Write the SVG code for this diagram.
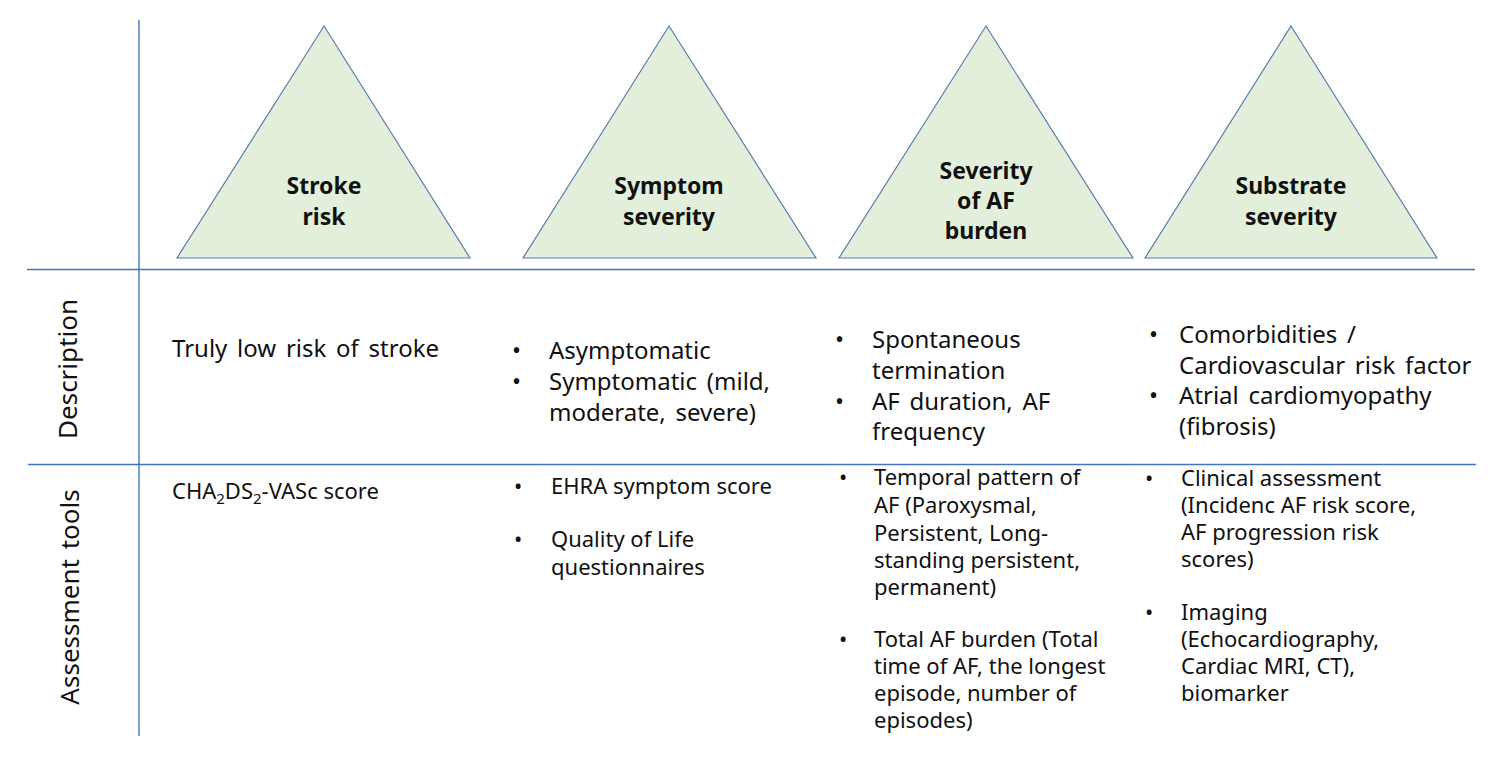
<svg xmlns="http://www.w3.org/2000/svg" width="1502" height="757" viewBox="0 0 1502 757">
<style>
.tri{fill:#E2EFDA;stroke:#5B7BB0;stroke-width:1.2}
.grid{stroke:#4472C4;stroke-width:1.4;fill:none}
.lbl{font-family:"Noto Sans","Open Sans",sans-serif;font-weight:bold;font-size:23px;fill:#111;text-anchor:middle}
.d{font-family:"Noto Sans","Open Sans",sans-serif;font-size:24px;fill:#111;word-spacing:3.5px}
.b{font-family:"Noto Sans","Open Sans",sans-serif;font-size:24px;fill:#111}
.a{font-family:"Noto Sans","Open Sans",sans-serif;font-size:22px;fill:#111}
.row{font-family:"Noto Sans","Open Sans",sans-serif;font-size:26px;fill:#111;text-anchor:middle;word-spacing:3px}
</style>
<rect width="1502" height="757" fill="#fff"/>
<g id="grid">
<line class="grid" x1="139" y1="20" x2="139" y2="736"/>
<line class="grid" x1="27" y1="269.5" x2="1475" y2="269.5"/>
<line class="grid" x1="28" y1="464.5" x2="1476" y2="464.5"/>
</g>
<g id="row-labels">
<text class="row" transform="translate(77,369) rotate(-90)">Description</text>
<text class="row" transform="translate(79,597) rotate(-90)">Assessment tools</text>
</g>
<g id="stroke-risk">
<polygon class="tri" points="324,26 470,258 177,258"/>
<text class="lbl" x="324" y="194">Stroke</text>
<text class="lbl" x="324" y="225">risk</text>
<text class="d" x="172" y="357">Truly low risk of stroke</text>
<text class="a" x="172" y="499">CHA<tspan font-size="15" dy="5">2</tspan><tspan dy="-5">DS</tspan><tspan font-size="15" dy="5">2</tspan><tspan dy="-5">-VASc score</tspan></text>
</g>
<g id="symptom-severity">
<polygon class="tri" points="669,26 816,258 523,258"/>
<text class="lbl" x="669" y="194">Symptom</text>
<text class="lbl" x="669" y="225">severity</text>
<text class="b" x="512" y="359">•</text>
<text class="d" x="549" y="359">Asymptomatic</text>
<text class="b" x="512" y="390">•</text>
<text class="d" x="549" y="390">Symptomatic (mild,</text>
<text class="d" x="549" y="421">moderate, severe)</text>
<text class="a" x="514" y="494">•</text>
<text class="a" x="551" y="494">EHRA symptom score</text>
<text class="a" x="514" y="547">•</text>
<text class="a" x="551" y="547">Quality of Life</text>
<text class="a" x="551" y="575">questionnaires</text>
</g>
<g id="af-burden">
<polygon class="tri" points="986,26 1133,258 839,258"/>
<text class="lbl" x="986" y="179">Severity</text>
<text class="lbl" x="986" y="209">of AF</text>
<text class="lbl" x="986" y="239">burden</text>
<text class="b" x="835" y="348">•</text>
<text class="d" x="872" y="348">Spontaneous</text>
<text class="d" x="872" y="379">termination</text>
<text class="b" x="835" y="410">•</text>
<text class="d" x="872" y="410">AF duration, AF</text>
<text class="d" x="872" y="440">frequency</text>
<text class="a" x="839" y="485">•</text>
<text class="a" x="874" y="485">Temporal pattern of</text>
<text class="a" x="874" y="513">AF (Paroxysmal,</text>
<text class="a" x="874" y="541">Persistent, Long-</text>
<text class="a" x="874" y="568">standing persistent,</text>
<text class="a" x="874" y="595">permanent)</text>
<text class="a" x="839" y="647">•</text>
<text class="a" x="874" y="647">Total AF burden (Total</text>
<text class="a" x="874" y="674">time of AF, the longest</text>
<text class="a" x="874" y="701">episode, number of</text>
<text class="a" x="874" y="728">episodes)</text>
</g>
<g id="substrate-severity">
<polygon class="tri" points="1291,26 1437,258 1145,258"/>
<text class="lbl" x="1291" y="194">Substrate</text>
<text class="lbl" x="1291" y="225">severity</text>
<text class="b" x="1149" y="343">•</text>
<text class="d" x="1179" y="343">Comorbidities /</text>
<text class="d" x="1179" y="374">Cardiovascular risk factor</text>
<text class="b" x="1149" y="404">•</text>
<text class="d" x="1179" y="404">Atrial cardiomyopathy</text>
<text class="d" x="1179" y="435">(fibrosis)</text>
<text class="a" x="1145" y="486">•</text>
<text class="a" x="1181" y="486">Clinical assessment</text>
<text class="a" x="1181" y="513">(Incidenc AF risk score,</text>
<text class="a" x="1181" y="540">AF progression risk</text>
<text class="a" x="1181" y="567">scores)</text>
<text class="a" x="1145" y="620">•</text>
<text class="a" x="1181" y="620">Imaging</text>
<text class="a" x="1181" y="647">(Echocardiography,</text>
<text class="a" x="1181" y="674">Cardiac MRI, CT),</text>
<text class="a" x="1181" y="701">biomarker</text>
</g>
</svg>
